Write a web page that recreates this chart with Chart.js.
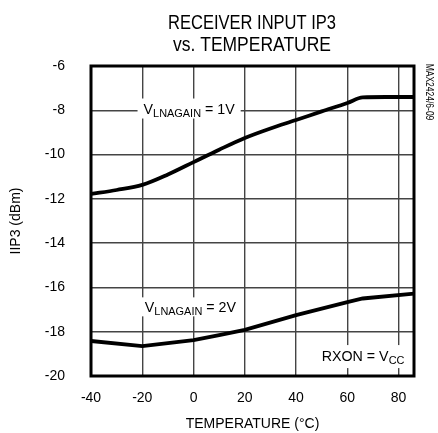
<!DOCTYPE html>
<html>
<head>
<meta charset="utf-8">
<script src="https://cdn.jsdelivr.net/npm/chart.js@4.4.1/dist/chart.umd.min.js"></script>
<style>
  body { margin: 0; background: #fff; }
  #wrap { width: 438px; height: 433px; }
</style>
</head>
<body>
<div id="wrap"><canvas id="ip3-chart" width="438" height="433"></canvas></div>
<script>
// temperature points (°C) and IIP3 values (dBm)
const temps1V = [-40, -30, -20, -10, 0, 10, 20, 30, 40, 50, 60, 66, 75, 86];
const ip3At1V = [-11.78, -11.6, -11.37, -10.9, -10.34, -9.78, -9.25, -8.82, -8.44, -8.05, -7.67, -7.42, -7.4, -7.4];
const temps2V = [-40, -20, 0, 10, 20, 40, 60, 66, 86];
const ip3At2V = [-18.42, -18.65, -18.38, -18.15, -17.92, -17.25, -16.66, -16.5, -16.28];

const xTicks = [-40, -20, 0, 20, 40, 60, 80];
const yTicks = [-20, -18, -16, -14, -12, -10, -8, -6];

const FONT = "'Liberation Sans', Arial, sans-serif";

function toPoints(xs, ys) {
  return xs.map((x, i) => ({ x: x, y: ys[i] }));
}

// condensed text: draw at normal size then squeeze horizontally
function narrowText(ctx, str, x, y, size, squeeze) {
  ctx.save();
  ctx.translate(x, y);
  ctx.scale(squeeze, 1);
  ctx.font = size + 'px ' + FONT;
  ctx.fillText(str, 0, 0);
  ctx.restore();
}

// squeeze a line of text so it fills a given width
function fitText(ctx, str, cx, y, size, width) {
  ctx.font = size + 'px ' + FONT;
  const sq = width / ctx.measureText(str).width;
  ctx.textAlign = 'center';
  narrowText(ctx, str, cx, y, size, sq);
}

// text with a subscript part; white box behind it hides the grid
function subLabel(ctx, x, y, main, sub, rest, box) {
  const sq = 0.95;
  ctx.font = '15px ' + FONT;
  const w1 = ctx.measureText(main).width * sq;
  const w3 = ctx.measureText(rest).width * sq;
  ctx.font = '11.5px ' + FONT;
  const w2 = ctx.measureText(sub).width * sq;
  if (box) {
    ctx.fillStyle = '#fff';
    ctx.fillRect(x - box[0], y - box[1], w1 + w2 + w3 + box[0] * 2, box[2]);
  }
  ctx.fillStyle = '#000';
  ctx.textBaseline = 'alphabetic';
  ctx.textAlign = 'left';
  narrowText(ctx, main, x, y + 5, 15, sq);
  narrowText(ctx, sub, x + w1, y + 8, 11.5, sq);
  narrowText(ctx, rest, x + w1 + w2, y + 5, 15, sq);
}

const extras = {
  id: 'extras',
  afterDraw(chart) {
    const ctx = chart.ctx;
    const a = chart.chartArea;
    const xs = chart.scales.x, ys = chart.scales.y;
    ctx.save();
    // title
    ctx.fillStyle = '#000';
    ctx.textBaseline = 'middle';
    fitText(ctx, 'RECEIVER INPUT IP3', 252, 23, 20, 168);
    fitText(ctx, 'vs. TEMPERATURE', 252, 45, 20, 158);
    // frame
    ctx.strokeStyle = '#000';
    ctx.lineWidth = 3;
    ctx.strokeRect(a.left, a.top, a.right - a.left, a.bottom - a.top);
    // curve labels
    subLabel(ctx, xs.getPixelForValue(-19.5), ys.getPixelForValue(-7.92), 'V', 'LNAGAIN', ' = 1V', [6, 10, 20]);
    subLabel(ctx, xs.getPixelForValue(-19), ys.getPixelForValue(-16.9), 'V', 'LNAGAIN', ' = 2V', [7, 10, 19]);
    subLabel(ctx, xs.getPixelForValue(50), ys.getPixelForValue(-19.1), 'RXON = V', 'CC', '', [4, 11, 23]);
    // part number
    ctx.translate(426, 92);
    ctx.rotate(Math.PI / 2);
    ctx.textAlign = 'center';
    narrowText(ctx, 'MAX2424/6-09', 0, 0, 10, 0.85);
    ctx.restore();
  }
};

function initChart() {
  const ctx = document.getElementById('ip3-chart').getContext('2d');
  new Chart(ctx, {
    type: 'line',
    data: {
      datasets: [
        { data: toPoints(temps1V, ip3At1V), borderColor: '#000', borderWidth: 3.8, pointRadius: 0, cubicInterpolationMode: 'monotone' },
        { data: toPoints(temps2V, ip3At2V), borderColor: '#000', borderWidth: 3.8, pointRadius: 0, tension: 0 }
      ]
    },
    options: {
      responsive: false,
      animation: false,
      layout: { padding: { top: 66, right: 24, left: 0, bottom: 0 } },
      plugins: { legend: { display: false }, tooltip: { enabled: false } },
      scales: {
        x: {
          type: 'linear',
          min: -40, max: 86,
          afterBuildTicks: s => { s.ticks = xTicks.map(v => ({ value: v })); },
          afterFit: s => { s.height = 57; },
          grid: { color: '#444', lineWidth: 1.4, drawTicks: false },
          border: { display: false },
          ticks: { color: '#000', font: { family: FONT, size: 14 }, padding: 14, maxRotation: 0 },
          title: { display: true, text: 'TEMPERATURE (°C)', color: '#000', font: { family: FONT, size: 14 }, padding: { top: 4, bottom: 0 } }
        },
        y: {
          min: -20, max: -6,
          afterBuildTicks: s => { s.ticks = yTicks.map(v => ({ value: v })); },
          afterFit: s => { s.width = 91; },
          grid: { color: '#444', lineWidth: 1.4, drawTicks: false },
          border: { display: false },
          ticks: { color: '#000', font: { family: FONT, size: 14 }, padding: 26 },
          title: { display: true, text: 'IIP3 (dBm)', color: '#000', font: { family: FONT, size: 14 }, padding: { top: 8 } }
        }
      }
    },
    plugins: [extras]
  });
}

window.onload = initChart;
</script>
</body>
</html>
